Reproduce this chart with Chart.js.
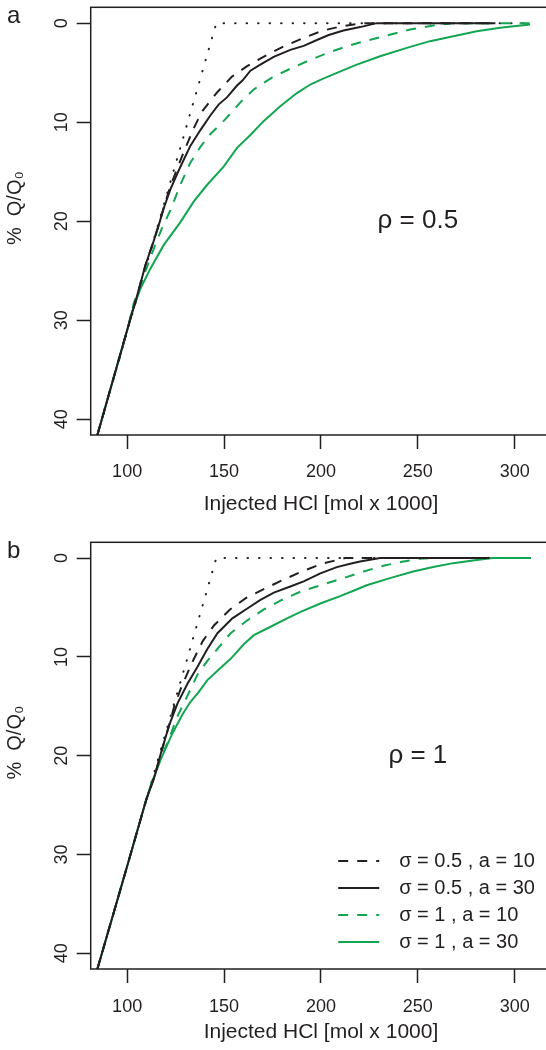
<!DOCTYPE html>
<html>
<head>
<meta charset="utf-8">
<script src="https://cdn.jsdelivr.net/npm/chart.js@4.4.0/dist/chart.umd.min.js"></script>
<style>
  html, body { margin: 0; padding: 0; background: #fff; overflow: hidden; }
  #wrap { position: relative; width: 546px; height: 1050px; overflow: hidden; }
  canvas { position: absolute; left: 0; }
  #chartA { top: 0; }
  #chartB { top: 530px; }
  .panel { position: absolute; left: 7px; font: 24px 'Liberation Sans', Arial, sans-serif; line-height: 24px; color: #231f20; }
</style>
</head>
<body>
<div id="wrap">
  <canvas id="chartA" width="560" height="530"></canvas>
  <canvas id="chartB" width="560" height="520"></canvas>
  <div class="panel" style="top:3px">a</div>
  <div class="panel" style="top:538px">b</div>
</div>
<script>
// tick values and labels
const xTickVals = [100, 150, 200, 250, 300];
const yTickVals = [0, 10, 20, 30, 40];
const yTitle = '%  Q/Q₀';
const xTitle = 'Injected HCl [mol x 1000]';
const legendLabels = ['σ = 0.5 , a = 10', 'σ = 0.5 , a = 30', 'σ = 1 , a = 10', 'σ = 1 , a = 30'];

// theoretical (dotted) curve, same in both panels
const theory = [[84.5, 41.7], [146, 0], [308, 0]];

// panel a, rho = 0.5
const aBlackDash = [[84.5, 41.7], [100.9, 30.4], [105.2, 27.5], [109.5, 24.4], [113.7, 22.0], [116.3, 20.4],
  [118.9, 18.6], [122.3, 16.5], [125.8, 14.7], [130.1, 12.6], [134.4, 10.6], [138.7, 8.9], [146.4, 7.0],
  [154.1, 5.4], [161.9, 4.35], [171.3, 3.3], [180.8, 2.35], [191, 1.5], [201, 0.75], [211, 0.3], [222, 0], [290, 0]];
const aBlackSolid = [[84.5, 41.7], [100.9, 30.4], [105.2, 27.5], [109.5, 24.4], [113.7, 22.0], [116.3, 20.4],
  [118.9, 18.7], [122.3, 16.8], [127.5, 14.5], [132.6, 12.4], [137.8, 10.8], [143.0, 9.3], [147.3, 8.2],
  [151.5, 7.5], [156.7, 6.3], [159.5, 5.8], [163.6, 4.8], [168.7, 4.2], [175.6, 3.4], [184.2, 2.7], [191.1, 2.3],
  [197.9, 1.7], [204, 1.2], [211.6, 0.75], [220.2, 0.4], [228.8, 0], [290, 0]];
const aGreenDash = [[84.5, 41.7], [100.9, 30.4], [103.4, 28.3], [108.6, 25.5], [113.7, 22.8], [118, 20.7],
  [122.3, 18.9], [127.5, 16.3], [132.6, 14.1], [137.8, 12.5], [143, 11.2], [150.7, 9.7], [158.4, 8.0],
  [165.3, 6.7], [174.7, 5.5], [184.2, 4.6], [194, 3.75], [203.5, 3.0], [213.4, 2.33], [223.7, 1.76],
  [234, 1.25], [246, 0.64], [258, 0.24], [268, 0], [308, 0]];
const aGreenSolid = [[84.5, 41.7], [100.9, 30.4], [101.7, 29.6], [106.9, 26.8], [112, 24.8], [118.9, 22.4],
  [127.5, 20.1], [134.4, 18.0], [141.2, 16.35], [149.8, 14.5], [156.7, 12.6], [163.6, 11.3], [170.4, 9.9],
  [179, 8.4], [187.6, 7.06], [194.5, 6.2], [200, 5.7], [208.2, 5.03], [218.5, 4.19], [230.5, 3.34],
  [244.3, 2.5], [256.3, 1.82], [268.3, 1.32], [280.4, 0.81], [292.4, 0.47], [307.9, 0.14]];

// panel b, rho = 1
const bBlackDash = [[84.5, 41.7], [100.3, 31], [109.8, 24.5], [114, 22.2], [117.5, 19.7], [121.7, 16.9],
  [124.3, 15.0], [128.1, 13.0], [133.7, 10.5], [139, 8.4], [144.9, 6.8], [153.1, 5.2], [161.6, 4.0],
  [171.4, 3.05], [180.5, 2.2], [190.2, 1.35], [201, 0.54], [212.5, 0], [287, 0]];
const bBlackSolid = [[84.5, 41.7], [100.3, 31.0], [109.8, 24.5], [114, 22.2], [117.5, 19.7], [121.7, 16.9],
  [126, 14.7], [131.2, 12.7], [136.3, 11.0], [141.4, 9.2], [146.6, 7.6], [154.3, 6.1], [162, 5.1],
  [168.8, 4.23], [175.7, 3.5], [184.2, 2.88], [191.1, 2.35], [199.7, 1.55], [208.2, 0.91], [215.1, 0.58],
  [220.2, 0.34], [230.5, 0], [287, 0]];
const bGreenDash = [[84.5, 41.7], [100.3, 31], [109.8, 24.5], [113, 22.5], [117.5, 20.2], [121.2, 18.5],
  [126, 16.0], [131.2, 13.9], [136.3, 11.8], [141.4, 10.4], [147.4, 9.0], [153.4, 7.6], [162, 6.3],
  [170.5, 5.2], [179.1, 4.3], [189.4, 3.4], [199.7, 2.75], [210, 2.13], [222, 1.35], [232.2, 0.78],
  [242.5, 0.34], [251, 0.07], [256, 0], [300, 0]];
const bGreenSolid = [[84.5, 41.7], [100.3, 31], [109.8, 24.5], [111.5, 23.4], [117.3, 20.4], [123, 17.9],
  [128.6, 15.8], [132.5, 14.6], [136.8, 13.6], [141.4, 12.35], [148.3, 11.1], [153.4, 10.2], [160.3, 8.7],
  [165.4, 7.8], [174, 6.95], [182.5, 6.1], [189.5, 5.45], [199.7, 4.6], [209.9, 3.85], [216.8, 3.3],
  [223.6, 2.75], [235.6, 2.03], [247.6, 1.35], [257.9, 0.91], [268.2, 0.51], [278.4, 0.24], [288.7, 0],
  [308.4, 0]];

const INK = '#231f20';
const GREEN = '#13a650';
const FONT = "'Liberation Sans', Arial, Helvetica, sans-serif";

// box round the plot, rotated y labels and title, rho text and legend
const extras = {
  id: 'extras',
  afterDraw(chart, args, opts) {
    const { ctx, chartArea: a, scales: { x, y } } = chart;
    ctx.save();
    ctx.strokeStyle = INK;
    ctx.lineWidth = 1.5;
    ctx.strokeRect(a.left, a.top, a.right - a.left, a.bottom - a.top);

    ctx.fillStyle = INK;
    ctx.font = '18px ' + FONT;
    ctx.textAlign = 'center';
    ctx.textBaseline = 'middle';
    y.ticks.forEach(t => {
      ctx.save();
      ctx.translate(a.left - 29, y.getPixelForValue(t.value));
      ctx.rotate(-Math.PI / 2);
      ctx.fillText(String(t.value), 0, 0);
      ctx.restore();
    });

    // axis title, set a little above the middle as in the original
    ctx.save();
    ctx.font = '20px ' + FONT;
    ctx.translate(15, (a.top + a.bottom) / 2 - 13);
    ctx.rotate(-Math.PI / 2);
    ctx.fillText(yTitle, 0, 0);
    ctx.restore();

    ctx.font = '26px ' + FONT;
    ctx.fillText(opts.rho, x.getPixelForValue(250), y.getPixelForValue(20));

    if (opts.legend) {
      ctx.font = '20px ' + FONT;
      ctx.textAlign = 'left';
      const order = [1, 0, 3, 2];
      order.forEach((di, i) => {
        const ds = chart.data.datasets[di];
        const ly = a.bottom - 108 + i * 27;
        ctx.save();
        ctx.strokeStyle = ds.borderColor;
        ctx.lineWidth = ds.borderWidth;
        ctx.setLineDash(ds.borderDash || []);
        ctx.beginPath();
        ctx.moveTo(a.right - 213, ly);
        ctx.lineTo(a.right - 172, ly);
        ctx.stroke();
        ctx.restore();
        ctx.fillText(legendLabels[i], a.right - 152, ly);
      });
    }
    ctx.restore();
  }
};

function makeChart(id, series, rho, legend, padTop, xHeight, labelPad, titlePad) {
  const ds = (data, color, dash) => ({
    data: data,
    borderColor: color,
    borderWidth: 2,
    borderDash: dash,
    pointRadius: 0,
    tension: 0,
    fill: false
  });
  return new Chart(document.getElementById(id), {
    type: 'line',
    data: {
      datasets: [
        ds(series[1], INK, []),
        ds(series[0], INK, [10, 9]),
        ds(series[3], GREEN, []),
        ds(series[2], GREEN, [10, 9]),
        Object.assign(ds(theory, INK, [0.5, 11]), { borderCapStyle: 'round' })
      ]
    },
    options: {
      responsive: false,
      animation: false,
      layout: { padding: { top: padTop, right: 8.8, left: 0, bottom: 0 } },
      plugins: { legend: { display: false }, tooltip: { enabled: false }, extras: { rho: rho, legend: legend } },
      scales: {
        x: {
          type: 'linear',
          min: 81.2,
          max: 318.8,
          afterBuildTicks: s => { s.ticks = xTickVals.map(v => ({ value: v })); },
          afterFit: s => { s.height = xHeight; },
          border: { display: false },
          grid: { drawOnChartArea: false, drawTicks: true, tickLength: 14, tickColor: INK, tickWidth: 1.5 },
          ticks: { color: INK, font: { family: FONT, size: 18 }, padding: labelPad, maxRotation: 0, autoSkip: false },
          title: { display: true, text: xTitle, color: INK,
                   font: { family: FONT, size: 21 }, padding: { top: 0, bottom: titlePad } }
        },
        y: {
          type: 'linear',
          reverse: true,
          min: -1.6,
          max: 41.6,
          afterBuildTicks: s => { s.ticks = yTickVals.map(v => ({ value: v })); },
          afterFit: s => { s.width = 90.7; },
          border: { display: false },
          grid: { drawOnChartArea: false, drawTicks: true, tickLength: 14, tickColor: INK, tickWidth: 1.5 },
          ticks: { display: false }
        }
      }
    },
    plugins: [extras]
  });
}

makeChart('chartA', [aBlackDash, aBlackSolid, aGreenDash, aGreenSolid], 'ρ = 0.5', false, 7.3, 95, 12, 13);
makeChart('chartB', [bBlackDash, bBlackSolid, bGreenDash, bGreenSolid], 'ρ = 1', true, 12.3, 81, 13, 5);
</script>
</body>
</html>
